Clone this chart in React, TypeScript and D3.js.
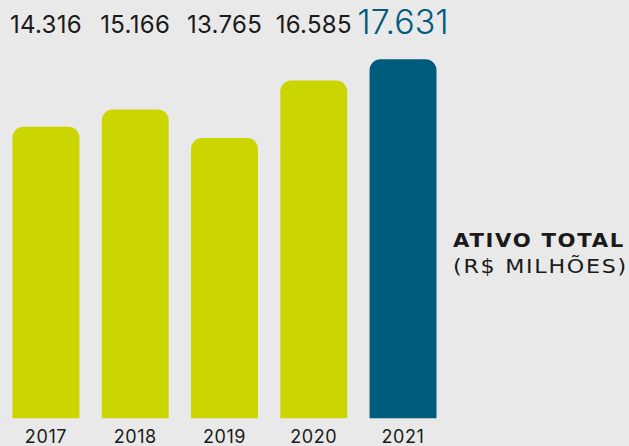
import React from "react";
import * as d3 from "d3";

const years = ["2017", "2018", "2019", "2020", "2021"];
const values = [14316, 15166, 13765, 16585, 17631];
const valueLabels = ["14.316", "15.166", "13.765", "16.585", "17.631"];
const titleLines = ["ATIVO TOTAL", "(R$ MILHÕES)"];

const W = 629;
const H = 446;
const LIME = "#cbd500";
const TEAL = "#005c7c";
const FONT = "Inter, 'Noto Sans', sans-serif";
const WIDE = "'DejaVu Sans', sans-serif";

const topRoundedBar = (x: number, y: number, w: number, h: number, r: number) => {
  const p = d3.path();
  p.moveTo(x, y + h);
  p.lineTo(x, y + r);
  p.arcTo(x, y, x + r, y, r);
  p.lineTo(x + w - r, y);
  p.arcTo(x + w, y, x + w, y + r, r);
  p.lineTo(x + w, y + h);
  p.closePath();
  return p.toString();
};

export default function App() {
  const x = d3.scaleBand().domain(years).range([12.5, 436.5]).paddingInner(0.25);
  const y = d3.scaleLinear().domain([0, 17631]).range([418.3, 59.3]);
  const last = years.length - 1;

  return (
    <svg
      width={W}
      height={H}
      style={{ position: "absolute", left: 0, top: 0, display: "block" }}
      fontFamily={FONT}
    >
      <rect width={W} height={H} fill="#e9e9e9" />
      {years.map((yr, i) => {
        const bx = x(yr) as number;
        const cx = bx + x.bandwidth() / 2;
        const big = i === last;
        return (
          <g key={yr}>
            <path
              d={topRoundedBar(bx, y(values[i]), x.bandwidth(), y(0) - y(values[i]), 11)}
              fill={big ? TEAL : LIME}
            />
            <text
              x={cx}
              y={big ? 34 : 33}
              textAnchor="middle"
              fontSize={big ? 34 : 24}
              fontWeight={big ? 300 : 400}
              letterSpacing={big ? 0 : 0.3}
              fill={big ? TEAL : "#1a1a1a"}
            >
              {valueLabels[i]}
            </text>
            <text
              x={cx}
              y={443}
              textAnchor="middle"
              fontSize={18}
              letterSpacing={0.6}
              fill="#1a1a1a"
            >
              {yr}
            </text>
          </g>
        );
      })}
      <text
        x={453}
        y={247}
        fontFamily={WIDE}
        fontSize={19}
        fontWeight={700}
        letterSpacing={1.5}
        textLength={172}
        lengthAdjust="spacingAndGlyphs"
        fill="#1a1a1a"
      >
        {titleLines[0]}
      </text>
      <text
        x={453}
        y={273}
        fontFamily={WIDE}
        fontSize={19}
        letterSpacing={1.5}
        textLength={175}
        lengthAdjust="spacingAndGlyphs"
        fill="#1a1a1a"
      >
        {titleLines[1]}
      </text>
    </svg>
  );
}
